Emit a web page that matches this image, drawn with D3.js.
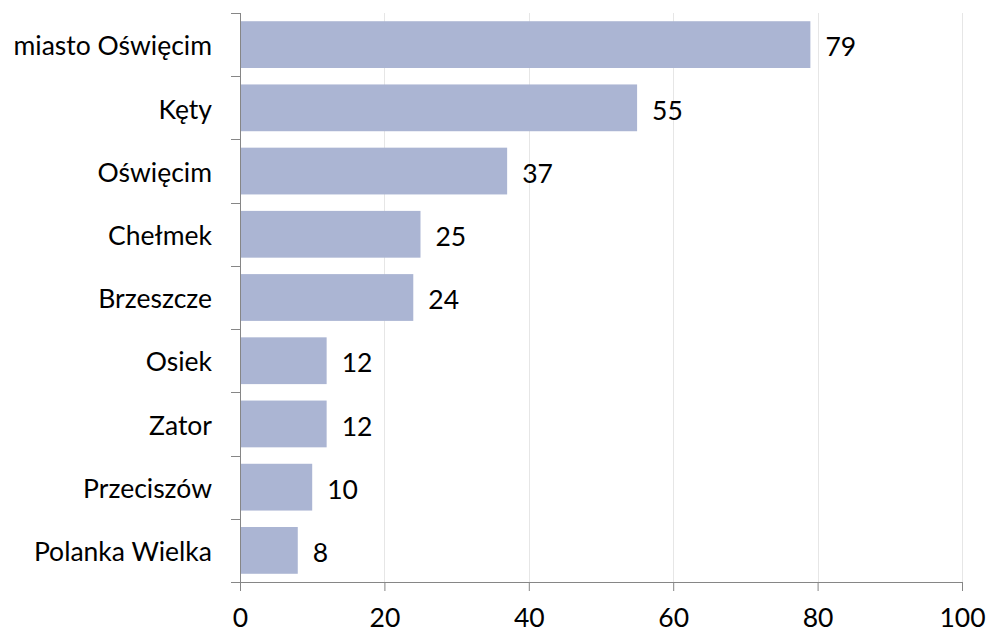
<!DOCTYPE html>
<html><head><meta charset="utf-8">
<script src="https://cdn.jsdelivr.net/npm/d3@7"></script>
<style>body{margin:0;background:#fff}svg text{font-family:Lato,"Open Sans",sans-serif}</style>
</head><body><svg id="c" width="988" height="633"></svg>
<script>
const categories = ["miasto Oświęcim","Kęty","Oświęcim","Chełmek","Brzeszcze","Osiek","Zator","Przeciszów","Polanka Wielka"];
const values = [79,55,37,25,24,12,12,10,8];
const xTicks = [0,20,40,60,80,100];

const FS = 26.5;
const svg = d3.select("#c");
const m = {l:240, r:26, t:13, b:51};
const W = 988, H = 633;
const x = d3.scaleLinear().domain([0,100]).range([m.l, W-m.r]);
const y = d3.scaleBand().domain(categories).range([m.t, H-m.b]).paddingInner(0.26).paddingOuter(0.13);

// gridlines
svg.append("g").selectAll("line").data(xTicks.slice(1)).join("line")
  .attr("x1",d=>Math.round(x(d))+0.5).attr("x2",d=>Math.round(x(d))+0.5).attr("y1",m.t).attr("y2",H-m.b)
  .attr("stroke","#e6e6e6").attr("stroke-width",1);

// bars
svg.append("g").selectAll("rect").data(values).join("rect")
  .attr("x",x(0)).attr("y",(d,i)=>y(categories[i]))
  .attr("width",d=>x(d)-x(0)).attr("height",y.bandwidth())
  .attr("fill","#abb5d3");

// value labels
svg.append("g").selectAll("text").data(values).join("text")
  .attr("x",d=>x(d)+15).attr("y",(d,i)=>y(categories[i])+y.bandwidth()/2+5)
  .attr("dominant-baseline","middle").attr("font-size",FS).attr("fill","#000")
  .text(d=>d);

// x axis
const xa = svg.append("g").attr("transform",`translate(0,${H-m.b})`)
  .call(d3.axisBottom(x).tickValues(xTicks).tickSize(9).tickPadding(17).tickSizeOuter(0));
xa.select(".domain").attr("stroke","#868686").attr("d",`M${m.l-9},0.5H${W-m.r}`);
xa.selectAll(".tick line").attr("stroke","#868686");
xa.selectAll(".tick text").attr("font-size",FS).attr("fill","#000").attr("font-family","Lato,'Open Sans',sans-serif");

// y axis
const yb = d3.scaleBand().domain(categories).range([m.t, H-m.b]);
const ya = svg.append("g").attr("transform",`translate(${m.l},0)`);
ya.append("line").attr("x1",0.5).attr("x2",0.5).attr("y1",m.t).attr("y2",H-m.b).attr("stroke","#868686");
ya.selectAll("line.t").data(categories).join("line").attr("class","t")
  .attr("x1",-9).attr("x2",0).attr("y1",d=>Math.round(yb(d))+0.5).attr("y2",d=>Math.round(yb(d))+0.5).attr("stroke","#868686");
ya.selectAll("text").data(categories).join("text")
  .attr("x",-28).attr("y",d=>yb(d)+yb.bandwidth()/2+4)
  .attr("text-anchor","end").attr("dominant-baseline","middle")
  .attr("font-size",FS).attr("fill","#000").text(d=>d);
</script></body></html>
